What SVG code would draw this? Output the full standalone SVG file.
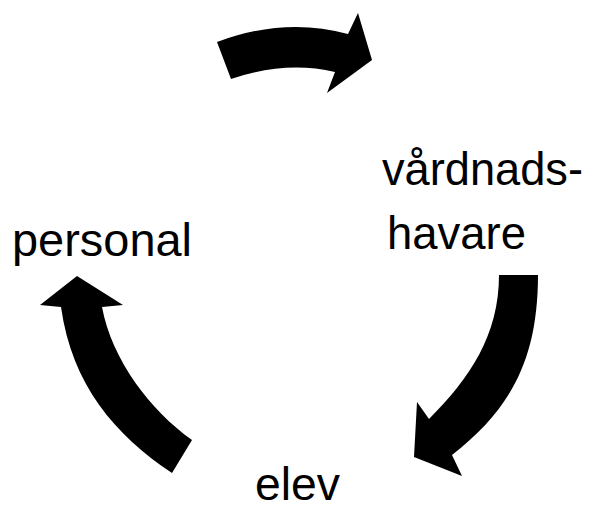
<svg xmlns="http://www.w3.org/2000/svg" width="595" height="511" viewBox="0 0 595 511">
<style>
.lbl{font-family:"Liberation Sans",Arial,sans-serif;font-size:47px;fill:#000}
.arr{fill:#000;stroke:none}
</style>
<rect width="595" height="511" fill="#fff"/>
<g id="connectors">
<path class="arr" d="M217,42 Q285,16.5 348,34 L358,13 L372,60 L327,93 L335,72 Q285,60.5 231,79 Z"/>
<path class="arr" d="M499,275 L538,275 C538,360 510,410 452,455 L462,476 L414,457 L417,402 L429,419 C470,378 499,335 499,275 Z"/>
<path class="arr" d="M77,276 L123,305 L102,307 C112,360 150,410 192,440 L172,473 C115,435 72,385 61,307 L40,305 Z"/>
</g>
<g id="node-personal"><text class="lbl" x="12" y="256" textLength="180" lengthAdjust="spacingAndGlyphs">personal</text></g>
<g id="node-vardnadshavare"><text class="lbl" x="382" y="185" textLength="201" lengthAdjust="spacingAndGlyphs">vårdnads-</text><text class="lbl" x="387" y="249" textLength="139" lengthAdjust="spacingAndGlyphs">havare</text></g>
<g id="node-elev"><text class="lbl" x="255" y="500" textLength="85" lengthAdjust="spacingAndGlyphs">elev</text></g>
</svg>
